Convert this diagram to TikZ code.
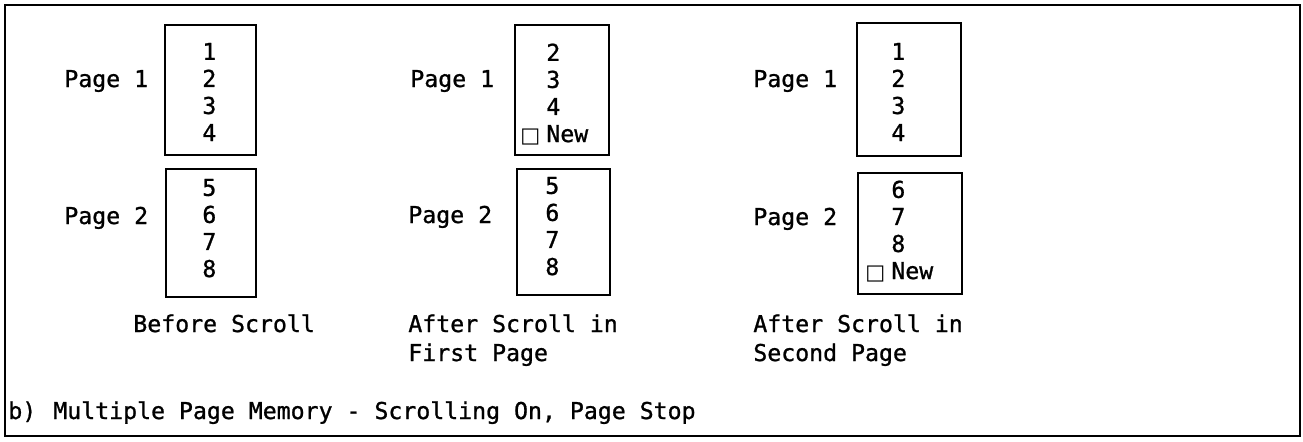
\documentclass[tikz,border=0pt]{standalone}
\usepackage{fontspec}
\setmainfont[FakeBold=1]{DejaVu Sans Mono}
\newfontfamily\symfont{DejaVu Sans}
\newcommand{\newentry}{\llap{{\symfont\fontsize{12pt}{12pt}\selectfont □}\hspace{0.12cm}}New}
\tikzset{
  pagebox/.style={draw,line width=1.4pt},
  entries/.style={anchor=base west,inner sep=0pt,align=left,font=\fontsize{13.2pt}{15.4pt}\selectfont},
  pagename/.style={anchor=base west,inner sep=0pt,font=\fontsize{13.2pt}{15.4pt}\selectfont},
  caption/.style={anchor=base west,inner sep=0pt,align=left,font=\fontsize{13.2pt}{16.5pt}\selectfont}
}
\begin{document}
\begin{tikzpicture}[x=0.02cm,y=-0.02cm]
        \useasboundingbox (0,0) rectangle (1303,441);
        %% Frame
        \draw[line width=1.4pt] (5,5) rectangle (1300,436);
        %% Before Scroll (base anchor sits on the last line)
        \draw[pagebox] (165,25) rectangle (256,155);
        \draw[pagebox] (166,169) rectangle (256,297);
        \node[pagename] (before1) at (64,87) {Page 1};
        \node[pagename] (before2) at (64,224) {Page 2};
        \node[entries] (beforelist1) at (202,141) {1\\2\\3\\4};
        \node[entries] (beforelist2) at (202,277) {5\\6\\7\\8};
        \node[caption] (beforecap) at (133,332) {Before Scroll};
        %% After Scroll in First Page
        \draw[pagebox] (515,25) rectangle (609,155);
        \draw[pagebox] (517,169) rectangle (610,295);
        \node[pagename] (first1) at (410,87) {Page 1};
        \node[pagename] (first2) at (408,223) {Page 2};
        \node[entries] (firstlist1) at (546,142) {2\\3\\4\\\newentry};
        \node[entries] (firstlist2) at (545,275) {5\\6\\7\\8};
        \node[caption] (firstcap) at (408,361) {After Scroll in\\First Page};
        %% After Scroll in Second Page
        \draw[pagebox] (857,23) rectangle (961,156);
        \draw[pagebox] (858,173) rectangle (962,294);
        \node[pagename] (second1) at (753,87) {Page 1};
        \node[pagename] (second2) at (753,225) {Page 2};
        \node[entries] (secondlist1) at (891,141) {1\\2\\3\\4};
        \node[entries] (secondlist2) at (891,279) {6\\7\\8\\\newentry};
        \node[caption] (secondcap) at (753,361) {After Scroll in\\Second Page};
        %% Caption
        \node[caption] (tag) at (8,419) {b)};
        \node[caption] (title) at (53,419) {Multiple Page Memory - Scrolling On, Page Stop};
\end{tikzpicture}
\end{document}
